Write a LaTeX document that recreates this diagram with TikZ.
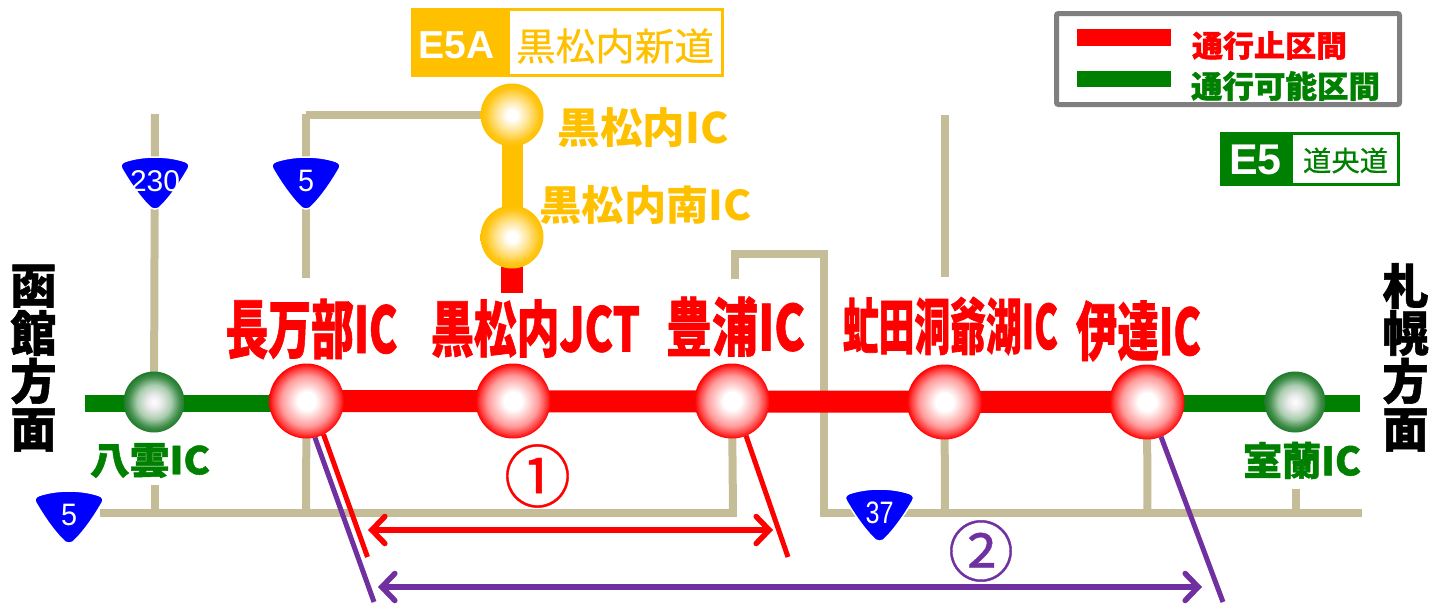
\documentclass[tikz,border=0pt]{standalone}
\usepackage{fontspec}
\usepackage{graphicx}
\setmainfont{Noto Sans CJK JP}
\newfontfamily\jpheavy[BoldFeatures={FakeBold=1.2}]{Noto Sans CJK JP}
\newfontfamily\jpmid[FakeBold=0.5]{Noto Sans CJK JP}
\newfontfamily\arialf{Liberation Sans}
\usetikzlibrary{arrows.meta,backgrounds}
\definecolor{roadtan}{HTML}{C4BD97}
\definecolor{jgreen}{HTML}{008000}
\definecolor{jyellow}{HTML}{FFC000}
\definecolor{jpurple}{HTML}{7030A0}
\definecolor{frameg}{HTML}{7F7F7F}
\definecolor{signblue}{HTML}{0000FF}
\definecolor{balldark}{HTML}{1F7A2A}
\pgfdeclareradialshading{ballred}{\pgfpoint{0bp}{0bp}}{color(0bp)=(white);color(6bp)=(white);color(17bp)=(red!40);color(22bp)=(red!75);color(25bp)=(red);color(50bp)=(red)}
\pgfdeclareradialshading{ballgreen}{\pgfpoint{0bp}{0bp}}{color(0bp)=(white);color(6bp)=(white!92!black);color(14bp)=(balldark!38);color(21bp)=(balldark!85);color(25bp)=(balldark);color(50bp)=(balldark)}
\pgfdeclareradialshading{ballyellow}{\pgfpoint{0bp}{0bp}}{color(0bp)=(white);color(4bp)=(white);color(14bp)=(jyellow!50);color(21bp)=(jyellow!90);color(25bp)=(jyellow);color(50bp)=(jyellow)}
\newcommand{\fitlab}[3]{\resizebox{#1pt}{\height}{\fontsize{#2pt}{#2pt}\selectfont\jpheavy\bfseries #3}}
\newcommand{\fitbold}[3]{\resizebox{#1pt}{\height}{\fontsize{#2pt}{#2pt}\selectfont\bfseries #3}}
\newcommand{\shieldsign}[6]{%
  \fill[signblue,draw=white,line width=1.5pt,shift={(#1,#2)}]
    (-30,3.5) .. controls (-12,-2.5) and (12,-2.5) .. (30,3.5) .. controls (34,5) and (35,8) .. (33,11)
    .. controls (25,25) and (15,39) .. (7,47) .. controls (3,52.5) and (-3,52.5) .. (-7,47)
    .. controls (-15,39) and (-25,25) .. (-33,11)
    .. controls (-35,8) and (-34,5) .. (-30,3.5) -- cycle;
  \node[plain,text=white] (#3) at (#1,#2+23) {\resizebox{#5pt}{\height}{\fontsize{#6pt}{#6pt}\selectfont\arialf #4}};}
\tikzset{
  plain/.style={inner sep=0pt,outer sep=0pt},
  ballnode/.style={circle,inner sep=0pt,outer sep=0pt,minimum size=#1},
  redball/.style={ballnode=75pt,shading=ballred},
  greenball/.style={ballnode=61pt,shading=ballgreen},
  yellowball/.style={ballnode=63pt,shading=ballyellow},
  tan road/.style={draw=roadtan,line width=8pt},
  tick/.style={line width=5pt},
  span arrow/.style={line width=5.5pt,{Straight Barb[length=13pt,width=27pt,line cap=round]}-{Straight Barb[length=13pt,width=27pt,line cap=round]}},
}
\begin{document}
\begin{tikzpicture}[x=1pt,y=-1pt]
\useasboundingbox (0,0) rectangle (1429,603);
% balls
\node[greenball] (yakumo) at (154,402) {};
\node[redball] (oshamambe) at (306.5,401) {};
\node[redball] (jct) at (513,401) {};
\node[redball] (toyoura) at (732,401) {};
\node[redball] (abuta) at (944.5,402) {};
\node[redball] (date) at (1147,402) {};
\node[greenball] (muroran) at (1295,402) {};
\node[yellowball] (kuro) at (512,115) {};
\node[yellowball] (kuros) at (512,237) {};
% free ends
\coordinate (w end) at (85,403.5);
\coordinate (e end) at (1360,403.5);
\coordinate (t230) at (155,114);
\coordinate (b230) at (155,485);
\coordinate (t5) at (306,114);
\coordinate (t5low) at (306,278);
\coordinate (s5low) at (306,513);
\coordinate (sw) at (100,513);
\coordinate (se) at (737,513);
\coordinate (cTop) at (735,279);
\coordinate (cTL) at (731,254);
\coordinate (cTR) at (824,254);
\coordinate (cBL) at (824,513);
\coordinate (cE) at (1362,513);
\coordinate (ab top) at (945,115);
\coordinate (ab low) at (945,277);
\coordinate (mur low) at (1296,489);
\coordinate (stub) at (512,293);
\coordinate (r1) at (367.5,557);
\coordinate (r2) at (788,557);
\coordinate (p1) at (374,602);
\coordinate (p2) at (1223,602);
\coordinate (a1l) at (368,530);
\coordinate (a1r) at (773,530);
\coordinate (a2l) at (378,587);
\coordinate (a2r) at (1202,587);
\begin{scope}[on background layer]
  \draw[tan road] (t230) -- (yakumo.center);
  \draw[tan road] (b230) -- (155,513);
  \draw[tan road] (t5low) -- (t5) |- (kuro.center);
  \draw[tan road] (oshamambe.center) -- (s5low);
  \draw[tan road] (sw) -- (se);
  \draw[tan road] (toyoura.center) -- (733,513);
  \draw[tan road] (cTop) -- (cTL -| cTop);
  \draw[tan road] (cTL) -- (cTR) -- (cBL) -- (cE);
  \draw[tan road] (ab top) -- (ab low);
  \draw[tan road] (abuta.center) -- (945,513);
  \draw[tan road] (date.center) -- (1147.5,513);
  \draw[tan road] (mur low) -- (1296,513);
  \draw[jgreen,line width=17pt] (w end) -- (e end);
  \draw[red,line width=22pt] (oshamambe.center) -- (date.center);
  \draw[jyellow,line width=21pt] (kuro.center) -- (kuros.center);
  \draw[red,line width=22pt] (kuros.center) -- (stub);
\end{scope}
% ticks and span arrows
\draw[tick,jpurple] (oshamambe.-77) -- (p1);
\draw[tick,red] (oshamambe.-63) -- (r1);
\draw[tick,red] (toyoura.-68) -- (r2);
\draw[tick,jpurple] (date.-68) -- (p2);
\draw[span arrow,red] (a1l) -- (a1r);
\draw[span arrow,jpurple] (a2l) -- (a2r);
% shields
\shieldsign{155}{158}{s230}{230}{50}{30}
\shieldsign{306}{158}{s5a}{5}{16}{31}
\shieldsign{69}{492}{s5b}{5}{16}{31}
\shieldsign{879.5}{490}{s37}{37}{28}{31}
% direction labels
\node[plain] (d1) at (33.5,286) {\fitlab{46}{48}{函}};
\node[plain] (d2) at (33.5,333) {\fitlab{46}{48}{館}};
\node[plain] (d3) at (33.5,381) {\fitlab{46}{48}{方}};
\node[plain] (d4) at (33.5,430) {\fitlab{46}{48}{面}};
\node[plain] (d5) at (1405.5,286) {\fitlab{46}{48}{札}};
\node[plain] (d6) at (1405.5,333) {\fitlab{46}{48}{幌}};
\node[plain] (d7) at (1405.5,381) {\fitlab{46}{48}{方}};
\node[plain] (d8) at (1405.5,430) {\fitlab{46}{48}{面}};
% IC labels
\node[plain,text=red] (l1) at (311.5,329) {\fitlab{172}{64}{長万部IC}};
\node[plain,text=red] (l2) at (535.5,328.5) {\fitlab{209}{61}{黒松内JCT}};
\node[plain,text=red] (l3) at (735.5,326.5) {\fitlab{139}{63}{豊浦IC}};
\node[plain,text=red] (l4) at (950.5,326) {\fitlab{215}{61}{虻田洞爺湖IC}};
\node[plain,text=red] (l5) at (1138.5,331) {\fitlab{125}{64}{伊達IC}};
\node[plain,text=jgreen] (l6) at (150,460.5) {\fitlab{120}{38}{八雲IC}};
\node[plain,text=jgreen] (l7) at (1302,460.5) {\fitlab{118}{39}{室蘭IC}};
\node[plain,text=jyellow] (l8) at (643,127.5) {\fitbold{171}{42}{黒松内IC}};
\node[plain,text=jyellow] (l9) at (645.5,205) {\fitbold{212}{41}{黒松内南IC}};
% circled numbers
\node[plain,text=red] (n1) at (537.5,476) {\resizebox{67pt}{\height}{\fontsize{68pt}{68pt}\selectfont\jpmid ①}};
\node[plain,text=jpurple] (n2) at (981,551) {\resizebox{66pt}{\height}{\fontsize{66pt}{66pt}\selectfont\jpmid ②}};
% E5A header
\node[plain,draw=jyellow,line width=3pt,fill=white,minimum width=310pt,minimum height=66pt] (hbox) at (567.5,42.5) {};
\fill[jyellow] (hbox.north west) rectangle (510,75.5);
\node[plain,text=white] (e5a) at (456.5,45) {\fontsize{39pt}{39pt}\selectfont\arialf\bfseries E5A};
\node[plain,text=jyellow] (hname) at (615,46) {\resizebox{198pt}{\height}{\fontsize{38pt}{38pt}\selectfont\jpmid 黒松内新道}};
% legend
\node[plain,draw=frameg,line width=5pt,rounded corners=2pt,fill=white,minimum width=343pt,minimum height=91pt] (legend) at (1228,59) {};
\coordinate (lr1) at (1077,37.5);
\coordinate (lr2) at (1171,37.5);
\coordinate (lg1) at (1077,79);
\coordinate (lg2) at (1171,79);
\draw[red,line width=17pt] (lr1) -- (lr2);
\draw[jgreen,line width=16pt] (lg1) -- (lg2);
\node[plain,text=red] (lt1) at (1269.5,45.5) {\fitlab{155}{30}{通行止区間}};
\node[plain,text=jgreen] (lt2) at (1285.5,86) {\fitlab{189}{31}{通行可能区間}};
% E5 sign
\node[plain,draw=jgreen,line width=3pt,fill=white,minimum width=177pt,minimum height=51pt] (ebox) at (1310,159) {};
\fill[jgreen] (ebox.north west) rectangle (1293,184.5);
\node[plain,text=white] (e5) at (1255.5,160) {\fontsize{43pt}{43pt}\selectfont\arialf\bfseries E5};
\node[plain,text=jgreen] (ename) at (1345.5,160.5) {\resizebox{85pt}{\height}{\fontsize{28pt}{28pt}\selectfont\jpmid 道央道}};
\end{tikzpicture}
\end{document}
